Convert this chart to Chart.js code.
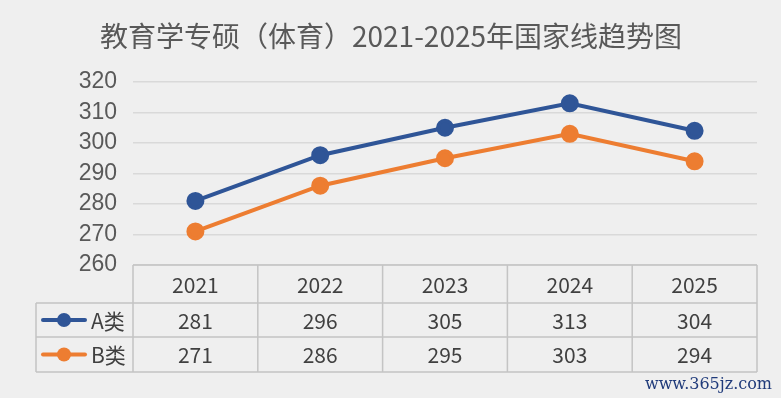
<!DOCTYPE html>
<html>
<head>
<meta charset="utf-8">
<script src="https://cdn.jsdelivr.net/npm/chart.js@4.4.1/dist/chart.umd.min.js"></script>
<style>
  html, body { margin:0; padding:0; background:#efefef; }
  #wrap { width:781px; height:398px; position:relative; }
</style>
</head>
<body>
<div id="wrap"><canvas id="c" width="781" height="398"></canvas></div>
<script>
// data
const years = ['2021', '2022', '2023', '2024', '2025'];
const seriesA = [281, 296, 305, 313, 304];
const seriesB = [271, 286, 295, 303, 294];
const seriesNames = ['A类', 'B类'];
const yTicks = [260, 270, 280, 290, 300, 310, 320];
const titleText = '教育学专硕（体育）2021-2025年国家线趋势图';

const BLUE = '#2f5597';
const ORANGE = '#ed7d31';
const FONT = '"Noto Sans CJK SC", "Noto Sans", sans-serif';

// title + Excel style data table under the plot
const dataTable = {
  id: 'dataTable',
  afterDraw(chart){
    const ctx = chart.ctx;
    const x = chart.scales.x;
    const area = chart.chartArea;
    const top = area.bottom;
    const rows = [top, top + 38, top + 72, top + 107];
    const legendLeft = 36;
    const edges = [area.left];
    for(let i = 0; i < years.length - 1; i++){
      edges.push((x.getPixelForValue(i) + x.getPixelForValue(i + 1)) / 2);
    }
    edges.push(area.right);

    ctx.save();
    ctx.fillStyle = '#595959';
    ctx.font = '28px ' + FONT;
    ctx.textAlign = 'center';
    ctx.textBaseline = 'middle';
    ctx.fillText(titleText, 391, 36);

    ctx.strokeStyle = '#c4c4c4';
    ctx.lineWidth = 1.5;
    ctx.beginPath();
    ctx.moveTo(area.left, rows[0]); ctx.lineTo(area.right, rows[0]);
    for(let r = 1; r < rows.length; r++){
      ctx.moveTo(legendLeft, rows[r]); ctx.lineTo(area.right, rows[r]);
    }
    ctx.moveTo(legendLeft, rows[1]); ctx.lineTo(legendLeft, rows[3]);
    edges.forEach(e => { ctx.moveTo(e, rows[0]); ctx.lineTo(e, rows[3]); });
    ctx.stroke();

    ctx.fillStyle = '#404040';
    ctx.font = '21px ' + FONT;
    const vals = [seriesA, seriesB];
    years.forEach((y, i) => {
      const cx = x.getPixelForValue(i);
      ctx.fillText(y, cx, (rows[0] + rows[1]) / 2 + 1);
      ctx.fillText(String(vals[0][i]), cx, (rows[1] + rows[2]) / 2 + 1);
      ctx.fillText(String(vals[1][i]), cx, (rows[2] + rows[3]) / 2 + 1);
    });

    // legend keys
    [BLUE, ORANGE].forEach((col, k) => {
      const cy = (rows[k + 1] + rows[k + 2]) / 2;
      ctx.strokeStyle = col;
      ctx.lineWidth = 4;
      ctx.lineCap = 'round';
      ctx.beginPath(); ctx.moveTo(43, cy); ctx.lineTo(85, cy); ctx.stroke();
      ctx.fillStyle = col;
      ctx.beginPath(); ctx.arc(64, cy, 7, 0, Math.PI * 2); ctx.fill();
      ctx.fillStyle = '#404040';
      ctx.textAlign = 'left';
      ctx.fillText(seriesNames[k], 91, cy + 1);
    });

    // site mark bottom right
    ctx.fillStyle = '#1f3a7a';
    ctx.font = '16px "DejaVu Serif", serif';
    ctx.textAlign = 'right';
    ctx.fillText('www.365jz.com', 772, 385);
    ctx.restore();
  }
};

new Chart(document.getElementById('c').getContext('2d'), {
  type: 'line',
  data: {
    labels: years,
    datasets: [
      { label: seriesNames[0], data: seriesA, borderColor: BLUE, backgroundColor: BLUE,
        borderWidth: 4, pointRadius: 7, pointHoverRadius: 7, tension: 0 },
      { label: seriesNames[1], data: seriesB, borderColor: ORANGE, backgroundColor: ORANGE,
        borderWidth: 4, pointRadius: 7, pointHoverRadius: 7, tension: 0 }
    ]
  },
  options: {
    responsive: false,
    animation: false,
    layout: { padding: { top: 82, right: 24, bottom: 133, left: 0 } },
    plugins: {
      legend: { display: false },
      tooltip: { enabled: false },
      title: { display: false }
    },
    scales: {
      x: { type: 'category', offset: true, display: false },
      y: {
        min: 260, max: 320,
        afterBuildTicks(scale){ scale.ticks = yTicks.map(v => ({ value: v })); },
        afterFit(scale){ scale.width = 133; },
        border: { display: false },
        grid: { color: '#d9d9d9', lineWidth: 1.5, drawTicks: false },
        ticks: { autoSkip: false, color: '#595959', padding: 16,
          font: { family: '"Liberation Sans", Arial, sans-serif', size: 23 } }
      }
    }
  },
  plugins: [dataTable]
});
</script>
</body>
</html>
